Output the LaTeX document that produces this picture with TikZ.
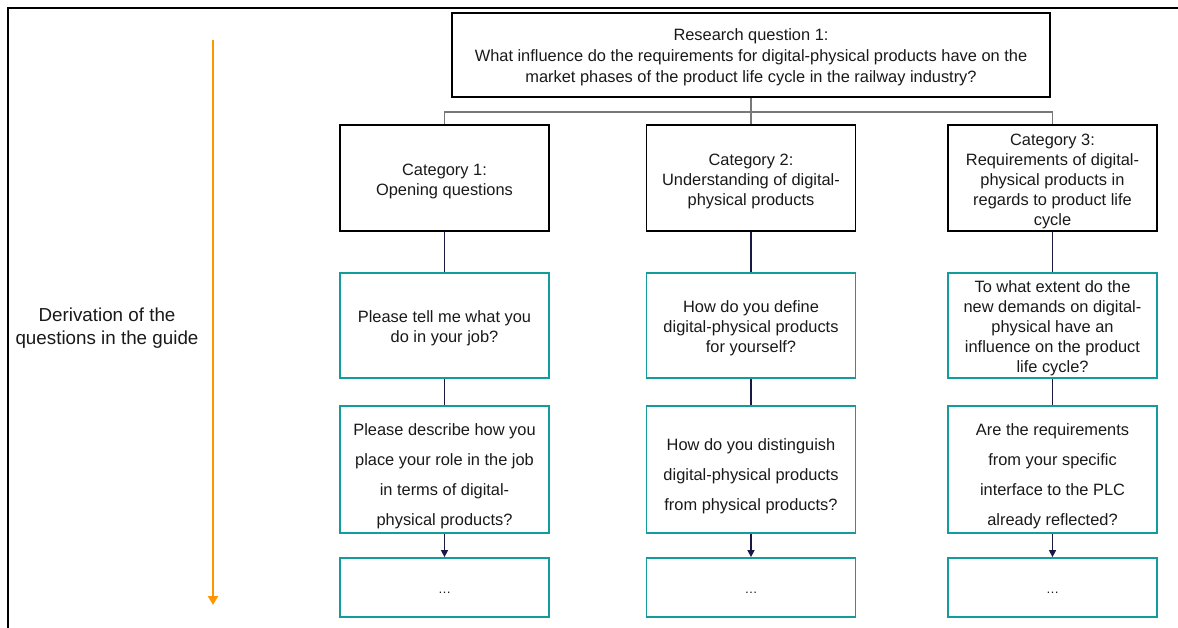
\documentclass[tikz,border=0pt]{standalone}
\usepackage{fontspec}
\setmainfont{Liberation Sans}
\usetikzlibrary{arrows.meta}
\definecolor{tealbox}{RGB}{20,155,155}
\definecolor{navyline}{RGB}{25,25,70}
\definecolor{graylink}{RGB}{120,120,120}
\definecolor{orangebar}{RGB}{255,150,0}
\definecolor{textdark}{RGB}{25,25,25}
\begin{document}
\begin{tikzpicture}[x=1pt,y=-1pt,
  txt/.style={align=center, text=textdark, inner sep=0pt,
    font=\fontsize{16.4}{20}\selectfont},
  toptxt/.style={txt, yshift=-2pt, font=\fontsize{16.4}{21}\selectfont},
  cattxt/.style={txt, yshift=-3pt},
  q1txt/.style={txt, yshift=-3pt},
  q2txt/.style={txt, yshift=-7pt, font=\fontsize{16.4}{30}\selectfont},
  q3txt/.style={txt, yshift=-5pt, font=\fontsize{13}{15}\selectfont},
  topbox/.style={draw=black, line width=1.8pt, inner sep=0pt,
    minimum width=598pt, minimum height=84pt},
  catbox/.style={draw=black, line width=1.8pt, inner sep=0pt,
    minimum width=209pt, minimum height=106pt},
  qbox/.style={draw=tealbox, line width=1.8pt, inner sep=0pt,
    minimum width=209pt, minimum height=105pt},
  qboxwide/.style={qbox, minimum height=127pt},
  qboxend/.style={qbox, minimum height=59pt},
  link/.style={graylink, line width=1.3pt},
  qlink/.style={navyline, line width=1.5pt},
  qarrow/.style={qlink, -{Triangle[length=7pt,width=7pt]}},
  timeline/.style={orangebar, line width=2.5pt, -{Triangle[length=9pt,width=10pt]}}
]
\useasboundingbox (0,0) rectangle (1178,628);

% outer frame (top and left edges)
\draw[black, line width=2pt] (1178,8) -- (8,8) -- (8,628);

% research question
\node[topbox, label={[toptxt]center:{Research question 1:\\What influence do the requirements for digital-physical products have on the\\market phases of the product life cycle in the railway industry?}}] (rq) at (751,55) {};

% categories
\node[catbox, label={[cattxt]center:{Category 1:\\Opening questions}}] (c1) at (444.5,178) {};
\node[catbox, label={[cattxt]center:{Category 2:\\Understanding of digital-\\physical products}}] (c2) at (751,178) {};
\node[catbox, label={[cattxt]center:{Category 3:\\Requirements of digital-\\physical products in\\regards to product life\\cycle}}] (c3) at (1052.5,178) {};

% first questions
\node[qbox, label={[q1txt]center:{Please tell me what you\\do in your job?}}] (q11) at (444.5,325.5) {};
\node[qbox, label={[q1txt]center:{How do you define\\digital-physical products\\for yourself?}}] (q21) at (751,325.5) {};
\node[qbox, label={[q1txt]center:{To what extent do the\\new demands on digital-\\physical have an\\influence on the product\\life cycle?}}] (q31) at (1052.5,325.5) {};

% second questions
\node[qboxwide, label={[q2txt]center:{Please describe how you\\place your role in the job\\in terms of digital-\\physical products?}}] (q12) at (444.5,469.5) {};
\node[qboxwide, label={[q2txt]center:{How do you distinguish\\digital-physical products\\from physical products?}}] (q22) at (751,469.5) {};
\node[qboxwide, label={[q2txt]center:{Are the requirements\\from your specific\\interface to the PLC\\already reflected?}}] (q32) at (1052.5,469.5) {};

% further questions
\node[qboxend, label={[q3txt]center:…}] (q13) at (444.5,587.5) {};
\node[qboxend, label={[q3txt]center:…}] (q23) at (751,587.5) {};
\node[qboxend, label={[q3txt]center:…}] (q33) at (1052.5,587.5) {};

% tree connectors
\coordinate (split) at (751,112);
\draw[link] (rq.south) -- (c2.north);
\draw[link] (c1.north) -- (c1.north |- split) -- (c3.north |- split) -- (c3.north);

% column connectors
\foreach \c in {1,2,3} {
  \draw[qlink] (c\c.south) -- (q\c1.north);
  \draw[qlink] (q\c1.south) -- (q\c2.north);
  \draw[qarrow] (q\c2.south) -- (q\c3.north);
}

% derivation timeline
\coordinate (tlstart) at (213,40);
\coordinate (tlend) at (213,605);
\draw[timeline] (tlstart) -- (tlend);
\node[align=center, text=textdark, font=\fontsize{18.8}{23}\selectfont] (lbl) at (107,328) {Derivation of the\\questions in the guide};
\end{tikzpicture}
\end{document}
